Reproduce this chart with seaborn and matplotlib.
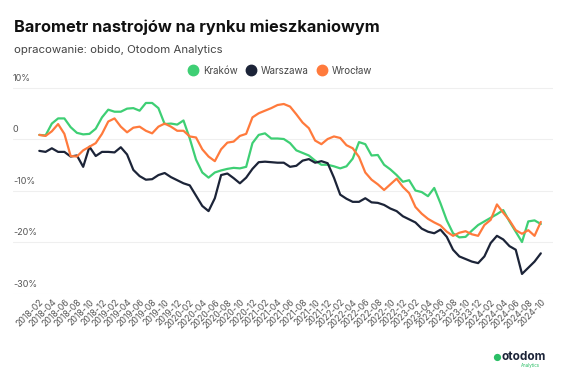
import numpy as np
import pandas as pd
import matplotlib
matplotlib.use("Agg")
import matplotlib.pyplot as plt
from matplotlib.lines import Line2D
import seaborn as sns

# miesiące 2018-02 .. 2024-10
months = pd.period_range("2018-02", "2024-10", freq="M").strftime("%Y-%m").tolist()

krakow = [0.8, 0.7, 3.0, 4.0, 4.0, 2.3, 1.2, 0.9, 1.0, 2.0,
          4.2, 5.7, 5.3, 5.3, 5.9, 6.0, 5.5, 7.0, 7.0, 6.0,
          2.9, 3.0, 2.8, 3.6, 0.1, -4.0, -6.5, -7.5, -6.5, -6.1,
          -5.8, -5.6, -5.7, -5.4, -0.8, 0.8, 1.1, 0.1, 0.1, 0.0,
          -0.8, -2.2, -2.7, -3.2, -4.2, -5.0, -5.0, -5.3, -5.7, -5.3,
          -3.8, -0.6, -1.0, -3.2, -3.1, -5.0, -5.9, -7.0, -8.3, -8.0,
          -10.0, -10.3, -11.1, -9.5, -12.5, -15.8, -18.3, -19.1, -19.0, -17.8,
          -16.7, -16.0, -15.3, -14.6, -13.8, -16.0, -18.0, -20.0, -16.0, -15.8,
          -16.5]

warszawa = [-2.3, -2.5, -1.8, -2.5, -2.5, -3.4, -3.2, -5.4, -1.5, -3.3,
            -2.5, -2.5, -2.6, -1.6, -3.0, -6.0, -7.2, -7.9, -7.8, -7.0,
            -6.6, -7.4, -8.0, -8.6, -9.0, -11.0, -13.0, -14.0, -11.5, -7.0,
            -6.7, -7.6, -8.6, -7.5, -5.8, -4.5, -4.4, -4.5, -4.6, -4.6,
            -5.4, -5.2, -4.2, -3.9, -4.6, -4.3, -4.7, -7.5, -10.8, -11.6,
            -12.2, -12.2, -11.5, -12.3, -12.4, -12.8, -13.5, -14.0, -15.0, -15.6,
            -16.2, -17.4, -18.0, -18.3, -17.6, -19.0, -21.5, -22.8, -23.3, -23.8,
            -24.1, -22.8, -20.2, -18.8, -19.5, -20.8, -21.5, -26.2, -25.0, -23.8,
            -22.2]

wroclaw = [0.8, 0.6, 1.5, 2.9, 1.0, -3.3, -3.4, -2.2, -1.5, -0.8,
           1.0, 3.4, 4.0, 2.4, 1.3, 2.2, 2.4, 1.6, 1.1, 2.4,
           3.0, 2.4, 1.6, 1.6, 0.5, 0.3, -2.0, -3.4, -4.3, -2.0,
           -0.7, -0.5, 0.6, 1.0, 4.2, 5.0, 5.5, 6.0, 6.6, 6.8,
           6.3, 4.8, 3.2, 2.1, -0.3, -1.0, 0.0, 0.5, 0.2, -1.2,
           -1.8, -3.5, -6.5, -7.9, -8.8, -9.9, -8.8, -7.7, -9.3, -10.5,
           -13.2, -14.5, -15.5, -16.2, -16.8, -18.0, -18.8, -18.2, -17.9, -18.5,
           -18.8, -16.7, -15.7, -12.7, -14.3, -15.8, -17.7, -18.4, -17.7, -18.8,
           -16.1]

cities = ["Kraków", "Warszawa", "Wrocław"]
colors = {"Kraków": "#3ecf74", "Warszawa": "#1c2438", "Wrocław": "#ff7a3c"}

df = pd.DataFrame({
    "idx": list(range(len(months))) * 3,
    "miesiac": months * 3,
    "miasto": ["Kraków"] * len(months) + ["Warszawa"] * len(months) + ["Wrocław"] * len(months),
    "wartosc": krakow + warszawa + wroclaw,
})

sns.set_theme(style="white")
plt.rcParams["font.family"] = ["Inter", "DejaVu Sans"]

fig = plt.figure(figsize=(5.64, 3.72), dpi=100)
ax = fig.add_axes([0.023, 0.211, 0.957, 0.5745])

sns.lineplot(data=df, x="idx", y="wartosc", hue="miasto", palette=colors,
             hue_order=cities, linewidth=1.6, legend=False, ax=ax)

ax.set_xlim(-4.2, 81.9)
ax.set_ylim(-30, 11.5)
for s in ax.spines.values():
    s.set_visible(False)

# siatka pozioma i etykiety osi Y nad liniami
yticks = [10, 0, -10, -20, -30]
ylabels = ["10%", "0", "-10%", "-20%", "-30%"]
for v, lab in zip(yticks, ylabels):
    ax.axhline(v, color="#efefef", linewidth=0.8, zorder=0)
    ax.text(0, v + 0.9, lab, transform=ax.get_yaxis_transform(), ha="left",
            va="bottom", fontsize=6.5, color="#555555")
ax.set_yticks([])

ax.set_xticks(range(0, len(months), 2))
ax.set_xticklabels(months[::2], rotation=45, ha="right", rotation_mode="anchor",
                   fontsize=6.3, color="#555555")
ax.tick_params(axis="x", length=0, pad=3)
ax.set_xlabel("")
ax.set_ylabel("")

fig.text(0.025, 1 - 27.5 / 372, "Barometr nastrojów na rynku mieszkaniowym",
         fontsize=11.8, fontweight="bold", color="#111111", va="center")
fig.text(0.025, 1 - 50 / 372, "opracowanie: obido, Otodom Analytics",
         fontsize=8.2, color="#444444", va="center")

handles = [Line2D([], [], marker="o", linestyle="", markersize=7.5,
                  markerfacecolor=colors[c], markeredgecolor=colors[c], label=c)
           for c in cities]
fig.legend(handles=handles, loc="center", bbox_to_anchor=(0.497, 1 - 70.7 / 372),
           ncol=3, frameon=False, fontsize=7, handletextpad=0.55,
           columnspacing=0.8, handlelength=1.0, labelcolor="#444444")

# logo
fig.text(0.873, 1 - 358 / 372, "●", fontsize=7, color="#2bbf66", va="center", ha="left")
fig.text(0.889, 1 - 357 / 372, "otodom", fontsize=8.5, fontweight="bold",
         color="#1c2438", va="center", ha="left")
fig.text(0.94, 1 - 365 / 372, "Analytics", fontsize=3.2, color="#2bbf66",
         va="center", ha="center")

fig.savefig("out.png", dpi=100)
